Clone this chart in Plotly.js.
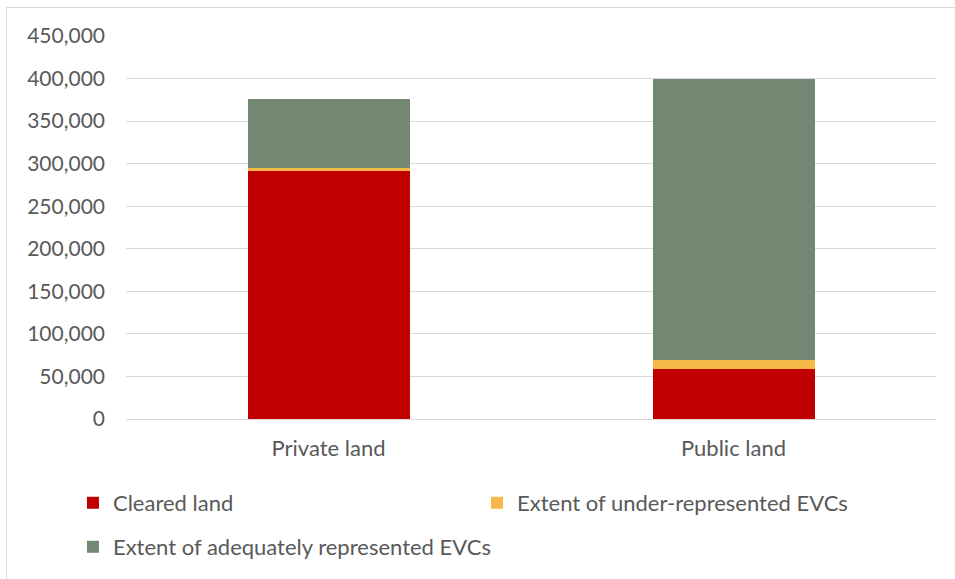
<!DOCTYPE html>
<html><head><meta charset="utf-8">
<script src="https://cdn.plot.ly/plotly-3.0.1.min.js"></script>
<style>
html,body{margin:0;padding:0;background:#fff;}
#frame{position:absolute;left:6px;top:7px;width:949px;height:572px;border-top:1px solid #d9d9d9;border-left:1px solid #d9d9d9;}
#chart{position:absolute;left:0;top:0;width:955px;height:579px;}
</style></head>
<body>
<div id="frame"></div>
<div id="chart"></div>
<script>
const categories = ["Private land", "Public land"];
const clearedLand = [291000, 59000];
const underRepresented = [3500, 10500];
const adequatelyRepresented = [82000, 330500];
const yTickVals = [0, 50000, 100000, 150000, 200000, 250000, 300000, 350000, 400000, 450000];

const fontFam = 'Lato, "Open Sans", sans-serif';
const txt = '#595959';

const traces = [
  {type:'bar', name:'Cleared land', x:categories, y:clearedLand, marker:{color:'#C00000'}, legend:'legend'},
  {type:'bar', name:'Extent of under-represented EVCs', x:categories, y:underRepresented, marker:{color:'#F7B84A'}, legend:'legend2'},
  {type:'bar', name:'Extent of adequately represented EVCs', x:categories, y:adequatelyRepresented, marker:{color:'#728872'}, legend:'legend3'}
];
traces.forEach(t => { t.hoverinfo = 'none'; });

const legBase = {orientation:'h', xanchor:'left', xref:'container', yref:'container', yanchor:'top', font:{size:22, color:txt}, bgcolor:'rgba(0,0,0,0)'};

const layout = {
  width:955, height:579,
  margin:{l:126, r:19, t:36, b:160},
  paper_bgcolor:'rgba(0,0,0,0)', plot_bgcolor:'rgba(0,0,0,0)',
  barmode:'stack', bargap:0.6,
  font:{family:fontFam, size:22, color:txt},
  xaxis:{automargin:false, showgrid:false, showline:true, linecolor:'#d9d9d9', linewidth:1, ticks:'', tickfont:{size:22, color:txt}, ticklabelstandoff:10},
  yaxis:{automargin:false, range:[0,450000], tickvals:yTickVals, tickformat:',d', showgrid:true, gridcolor:'#d9d9d9', gridwidth:1, zeroline:false, showline:false, ticks:'', ticklabelstandoff:20, tickfont:{size:21, color:txt}},
  legend: Object.assign({}, legBase, {x:0.0764, y:0.1676}),
  legend2: Object.assign({}, legBase, {x:0.4995, y:0.1676}),
  legend3: Object.assign({}, legBase, {x:0.0764, y:0.0916}),
  showlegend:true
};

Plotly.newPlot('chart', traces, layout, {displayModeBar:false, staticPlot:true});
</script>
</body></html>
